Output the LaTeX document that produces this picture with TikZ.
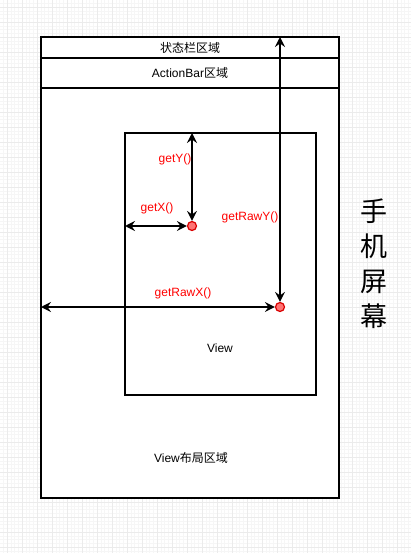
\documentclass[tikz,border=0pt]{standalone}
\usepackage{fontspec}
\setmainfont{Liberation Sans}
\newfontfamily\cjk{Noto Sans CJK SC}
\usetikzlibrary{arrows.meta,positioning}
\tikzset{
  box/.style={draw, line width=2pt, fill=white, inner sep=0pt, outer sep=0pt},
  txt/.style={font=\fontsize{12}{14}\selectfont},
  lbl/.style={txt, text=red},
  dot/.style={circle, draw=red!85!black, line width=1.2pt, fill=red!55!white, minimum size=9pt, inner sep=0pt},
  dbl/.style={line width=2pt, {Stealth[length=10pt,width=10pt,inset=3.5pt]}-{Stealth[length=10pt,width=10pt,inset=3.5pt]}},
}
\begin{document}
\begin{tikzpicture}[x=1pt,y=-1pt]
\useasboundingbox (0,0) rectangle (411,553);
% background grid
\fill[white] (0,0) rectangle (411,553);
\draw[gray!7, step=3.75pt, shift={(7,7)}] (-7,-7) grid (404,546);
\draw[gray!16, step=15pt, shift={(7,7)}] (-7,-7) grid (404,546);
% screen
\node[box, minimum width=298pt, minimum height=461pt] (phone) at (190,267.5) {};
\node[box, txt, minimum width=298pt, minimum height=21pt, anchor=north] (status) at (phone.north) {\cjk 状态栏区域};
\node[box, txt, minimum width=298pt, minimum height=30pt, anchor=north] (abar) at (status.south) {ActionBar{\cjk 区域}};
\node[txt] (layout) at (191,458) {View{\cjk 布局区域}};
% the view
\node[box, minimum width=191pt, minimum height=262pt] (view) at (220.5,264) {};
\node[txt] (vname) at (220,348) {View};
% touch points
\node[dot] (p1) at (192,226) {};
\node[dot] (p2) at (280,307) {};
\draw[dbl] (p1 |- view.north) -- (p1);
\draw[dbl] (view.west |- p1) -- (p1);
\draw[dbl] (p2 |- phone.north) -- (p2);
\draw[dbl] (phone.west |- p2) -- (p2);
\node[lbl] (gy) at (175,159) {getY()};
\node[lbl] (gx) at (157,208) {getX()};
\node[lbl] (gry) at (250,217) {getRawY()};
\node[lbl] (grx) at (183,293) {getRawX()};
% side caption
\node[font=\cjk\fontsize{27}{35}\selectfont, align=center] (cap) at (374,264) {手\\机\\屏\\幕};
\end{tikzpicture}
\end{document}
